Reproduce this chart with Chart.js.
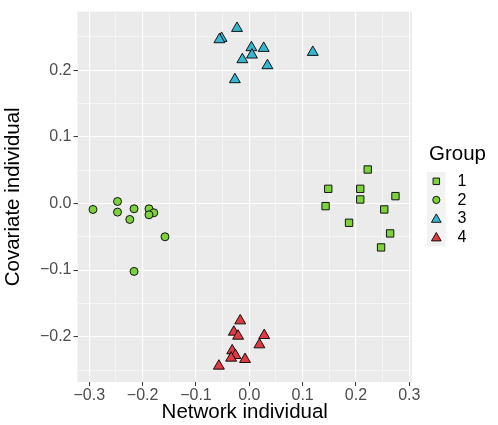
<!DOCTYPE html>
<html>
<head>
<meta charset="utf-8">
<script src="https://cdn.jsdelivr.net/npm/chart.js@4/dist/chart.umd.min.js"></script>
<style>
  html, body { margin: 0; padding: 0; background: #fff; }
  #wrap { width: 498px; height: 425px; position: relative; }
</style>
</head>
<body>
<div id="wrap"><canvas id="scatterChart"></canvas></div>
<script>
// Group labels and marker styles (ggplot shapes 22, 21, 24, 24)
const groupNames = ['1', '2', '3', '4'];
const groupColors = ['#7DD13E', '#7DD13E', '#35B8CF', '#DE3B44'];
const groupShapes = ['rect', 'circle', 'triangle', 'triangle'];
const groupRadius = [5.2, 4, 6.3, 6.3];

// Network individual (x) / covariate individual (y)
const group1X = [0.222, 0.148, 0.208, 0.274, 0.208, 0.143, 0.253, 0.187, 0.264, 0.247];
const group1Y = [0.051, 0.022, 0.022, 0.011, 0.006, -0.004, -0.009, -0.029, -0.045, -0.066];

const group2X = [-0.293, -0.247, -0.247, -0.216, -0.224, -0.188, -0.179, -0.188, -0.158, -0.216];
const group2Y = [-0.009, 0.003, -0.013, -0.008, -0.024, -0.008, -0.014, -0.017, -0.050, -0.102];

const group3X = [-0.023, -0.052, -0.056, 0.004, 0.027, 0.005, -0.013, 0.034, -0.027, 0.119];
const group3Y = [0.263, 0.248, 0.246, 0.234, 0.233, 0.223, 0.216, 0.207, 0.186, 0.227];

const group4X = [-0.017, -0.029, -0.021, 0.028, 0.019, -0.032, -0.026, -0.034, -0.008, -0.057];
const group4Y = [-0.176, -0.193, -0.199, -0.198, -0.212, -0.221, -0.228, -0.232, -0.234, -0.244];

// Axis ticks
const xTicks = [-0.3, -0.2, -0.1, 0.0, 0.1, 0.2, 0.3];
const yTicks = [-0.2, -0.1, 0.0, 0.1, 0.2];

const fontFamily = '"Liberation Sans", Arial, sans-serif';

function toPoints(xs, ys) {
    return xs.map((x, i) => ({ x: x, y: ys[i] }));
}

function isMajor(v, list) {
    return list.some(t => Math.abs(t - v) < 1e-6);
}

function fmt(v) {
    const s = Math.abs(v).toFixed(1);
    return v < -1e-9 ? '\u2212' + s : s;
}

const allX = [group1X, group2X, group3X, group4X];
const allY = [group1Y, group2Y, group3Y, group4Y];

const datasets = groupNames.map((name, i) => ({
    label: name,
    data: toPoints(allX[i], allY[i]),
    pointStyle: groupShapes[i],
    pointRadius: groupRadius[i],
    pointHoverRadius: groupRadius[i],
    backgroundColor: groupColors[i],
    borderColor: '#000000',
    borderWidth: 0.9
}));

// grey panel behind the grid, like theme_grey
const panelBackground = {
    id: 'panelBackground',
    beforeDraw(chart) {
        const { ctx, chartArea } = chart;
        ctx.save();
        ctx.fillStyle = '#EBEBEB';
        ctx.fillRect(chartArea.left, chartArea.top, chartArea.right - chartArea.left, chartArea.bottom - chartArea.top);
        ctx.restore();
    }
};

// ggplot-style legend on the right
const groupLegend = {
    id: 'groupLegend',
    afterDraw(chart) {
        const ctx = chart.ctx;
        const keyX = 427, keyTop = 172, keySize = 18.6;
        ctx.save();
        ctx.fillStyle = '#000000';
        ctx.font = '20.5px ' + fontFamily;
        ctx.textBaseline = 'alphabetic';
        ctx.textAlign = 'left';
        ctx.fillText('Group', 429, 159.5);

        ctx.fillStyle = '#F2F2F2';
        ctx.fillRect(keyX, keyTop, keySize, keySize * groupNames.length);

        groupNames.forEach((name, i) => {
            const cy = keyTop + keySize * i + keySize / 2;
            const cx = keyX + keySize / 2;
            ctx.fillStyle = groupColors[i];
            ctx.strokeStyle = '#000000';
            ctx.lineWidth = 0.9;
            Chart.helpers.drawPoint(ctx, {
                pointStyle: groupShapes[i],
                radius: groupShapes[i] === 'triangle' ? 5.6 : (groupShapes[i] === 'rect' ? 4.6 : 3.6),
                rotation: 0,
                borderWidth: 0.9
            }, cx, groupShapes[i] === 'triangle' ? cy + 1 : cy);

            ctx.fillStyle = '#000000';
            ctx.font = '16px ' + fontFamily;
            ctx.textBaseline = 'middle';
            ctx.fillText(name, 457.5, cy + 0.5);
        });
        ctx.restore();
    }
};

function gridColor(list) {
    return function(context) {
        if (!context.tick) return 'rgba(0,0,0,0)';
        return isMajor(context.tick.value, list) ? '#FFFFFF' : 'rgba(255,255,255,0.85)';
    };
}

function gridWidth(list) {
    return function(context) {
        if (!context.tick) return 0;
        return isMajor(context.tick.value, list) ? 1.1 : 0.55;
    };
}

function tickColor(list) {
    return function(context) {
        if (!context.tick) return 'rgba(0,0,0,0)';
        return isMajor(context.tick.value, list) ? '#333333' : 'rgba(0,0,0,0)';
    };
}

document.addEventListener('DOMContentLoaded', function() {
    const ctx = document.getElementById('scatterChart').getContext('2d');

    new Chart(ctx, {
        type: 'scatter',
        data: { datasets: datasets },
        plugins: [panelBackground, groupLegend],
        options: {
            responsive: true,
            maintainAspectRatio: false,
            animation: false,
            events: [],
            layout: {
                padding: { left: 0, right: 86, top: 6, bottom: 0 }
            },
            plugins: {
                legend: { display: false },
                tooltip: { enabled: false }
            },
            scales: {
                x: {
                    type: 'linear',
                    min: -0.322,
                    max: 0.305,
                    afterFit: function(scale) { scale.height = 43; },
                    ticks: {
                        stepSize: 0.05,
                        includeBounds: false,
                        autoSkip: false,
                        maxRotation: 0,
                        padding: 0,
                        color: '#4D4D4D',
                        font: { family: fontFamily, size: 16 },
                        callback: function(value) {
                            return isMajor(value, xTicks) ? fmt(value) : '';
                        }
                    },
                    grid: {
                        color: gridColor(xTicks),
                        lineWidth: gridWidth(xTicks),
                        tickColor: tickColor(xTicks),
                        tickLength: 4,
                        tickWidth: 1
                    },
                    border: { display: false },
                    title: {
                        display: true,
                        text: 'Network individual',
                        color: '#000000',
                        font: { family: fontFamily, size: 20.5 },
                        padding: { top: 0, bottom: 0 }
                    }
                },
                y: {
                    type: 'linear',
                    min: -0.268,
                    max: 0.288,
                    afterFit: function(scale) { scale.width = 77.5; },
                    ticks: {
                        stepSize: 0.05,
                        includeBounds: false,
                        autoSkip: false,
                        padding: 2,
                        color: '#4D4D4D',
                        font: { family: fontFamily, size: 16 },
                        callback: function(value) {
                            return isMajor(value, yTicks) ? fmt(value) : '';
                        }
                    },
                    grid: {
                        color: gridColor(yTicks),
                        lineWidth: gridWidth(yTicks),
                        tickColor: tickColor(yTicks),
                        tickLength: 4,
                        tickWidth: 1
                    },
                    border: { display: false },
                    title: {
                        display: true,
                        text: 'Covariate individual',
                        color: '#000000',
                        font: { family: fontFamily, size: 20.5 },
                        padding: { top: 1, bottom: 0 }
                    }
                }
            }
        }
    });
});
</script>
</body>
</html>
